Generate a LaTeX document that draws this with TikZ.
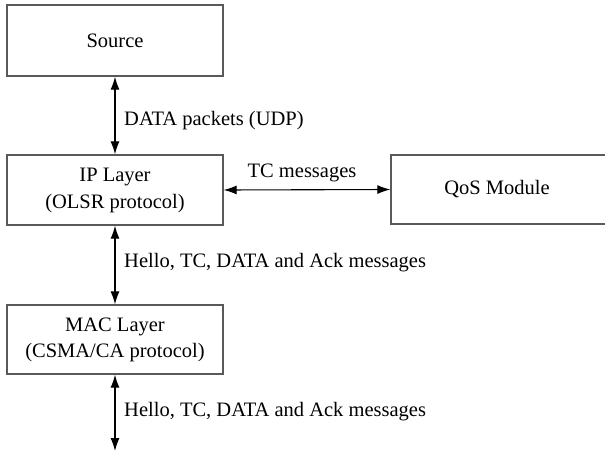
\documentclass[tikz,border=0pt]{standalone}
\usepackage{fontspec}
\setmainfont{Liberation Serif}
\newfontfamily\tnr{Liberation Serif}
\usetikzlibrary{arrows.meta}
\begin{document}
\begin{tikzpicture}[x=1pt,y=-1pt,
  box/.style={draw=black!65, line width=1.3pt, minimum width=216pt, inner sep=0pt, align=center, font=\tnr\fontsize{20.5}{27}\selectfont},
  conn/.style={{Latex[length=13pt,width=9pt]}-{Latex[length=13pt,width=9pt]}, line width=1.1pt, black},
  lbl/.style={font=\tnr\fontsize{20.5}{25}\selectfont, inner sep=0pt, anchor=west}]
\useasboundingbox (0,0) rectangle (605,455);
\node[box, minimum height=71pt] (src) at (115,40.5) {Source};
\node[box, minimum height=70pt] (ip) at (115,190) {IP Layer\\(OLSR protocol)};
\node[box, minimum height=69pt, minimum width=220pt] (qos) at (501,189.5) {\hspace*{-8pt}QoS Module};
\node[box, minimum height=69pt, font=\tnr\fontsize{20.5}{26}\selectfont] (mac) at (115,339.5) {MAC Layer\\(CSMA/CA protocol)};
\coordinate (bot) at (115,451);
\draw[conn] (src.south) -- (ip.north);
\draw[conn] (ip.east) -- (qos.west);
\draw[conn] (ip.south) -- (mac.north);
\draw[conn] (mac.south) -- (bot);
\node[lbl] (l1) at (124,121) {DATA packets (UDP)};
\node[lbl, anchor=center] (l2) at (302,173) {TC messages};
\node[lbl] (l3) at (124,263) {Hello, TC, DATA and Ack messages};
\node[lbl] (l4) at (124,412) {Hello, TC, DATA and Ack messages};
\end{tikzpicture}
\end{document}
